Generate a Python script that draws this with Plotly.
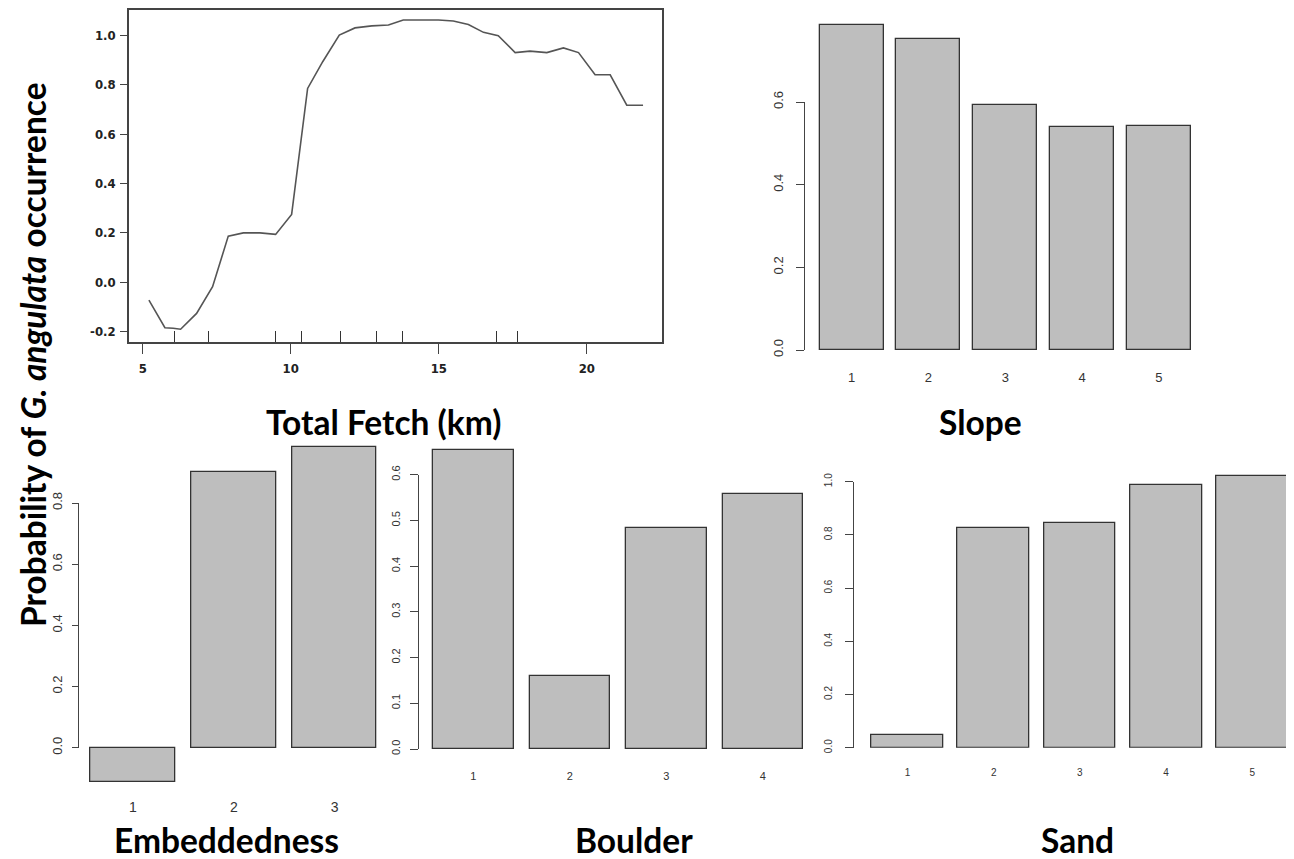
import plotly.graph_objects as go

# ---------------- data ----------------
fetch_km = [5.21, 5.75, 6.03, 6.28, 6.82, 7.36, 7.89, 8.40, 8.96, 9.49, 10.03, 10.57, 11.08,
            11.64, 12.17, 12.74, 13.30, 13.80, 14.37, 14.99, 15.49, 16.00, 16.51, 17.01,
            17.58, 18.08, 18.65, 19.21, 19.72, 20.28, 20.79, 21.35, 21.90]
fetch_prob = [-0.072, -0.184, -0.186, -0.190, -0.126, -0.018, 0.187, 0.200, 0.200, 0.194,
              0.275, 0.785, 0.893, 1.001, 1.030, 1.038, 1.042, 1.062, 1.062, 1.062, 1.058,
              1.044, 1.012, 0.998, 0.930, 0.936, 0.930, 0.949, 0.930, 0.840, 0.840, 0.717, 0.717]
fetch_rug = [6.06, 7.21, 9.50, 10.37, 11.67, 12.88, 13.76, 16.94, 17.66]
fetch_ticks = [5, 10, 15, 20]
fetch_yticks = [-0.2, 0.0, 0.2, 0.4, 0.6, 0.8, 1.0]

slope_cat = [1, 2, 3, 4, 5]
slope_val = [0.786, 0.753, 0.594, 0.540, 0.543]
slope_yticks = [0.0, 0.2, 0.4, 0.6]

emb_cat = [1, 2, 3]
emb_val = [-0.111, 0.902, 0.984]
emb_yticks = [0.0, 0.2, 0.4, 0.6, 0.8]

boulder_cat = [1, 2, 3, 4]
boulder_val = [0.654, 0.160, 0.484, 0.558]
boulder_yticks = [0.0, 0.1, 0.2, 0.3, 0.4, 0.5, 0.6]

sand_cat = [1, 2, 3, 4, 5]
sand_val = [0.047, 0.826, 0.843, 0.988, 1.021]
sand_yticks = [0.0, 0.2, 0.4, 0.6, 0.8, 1.0]

# ---------------- layout helpers ----------------
# the page body has an 8 px margin, so the figure is drawn 8 px in from the window edge
OFF = 8
W, H = 1294 - OFF, 859 - OFF
def fx(p):
    return min(max((p - OFF) / W, 0.0), 1.0)
def fy(p):
    return min(max(1 - (p - OFF) / H, 0.0), 1.0)

BAR_FILL = "#bebebe"
BAR_EDGE = "#333333"
AX = "#444444"
TITLE_FONT = dict(family="Lato, Open Sans, sans-serif", size=33.5, color="#000000", weight="bold")
NARROW_BOLD = dict(family="Liberation Sans Narrow, Arial Narrow, DejaVu Sans Condensed, sans-serif",
                   size=13, color="#222222", weight="bold")
SANS = "Liberation Sans, Arial, sans-serif"

fig = go.Figure()

# ---- Total Fetch line ----
fig.add_trace(go.Scatter(x=fetch_km, y=fetch_prob, mode="lines",
                         line=dict(color="#555555", width=1.6),
                         xaxis="x", yaxis="y", showlegend=False, hoverinfo="skip"))

layout = dict(width=W, height=H, margin=dict(l=0, r=0, t=0, b=0, pad=0),
              plot_bgcolor="rgba(0,0,0,0)", paper_bgcolor="white", bargap=0,
              showlegend=False)

# box top is at y=7 in the reference; draw it at y=10 (inside the page) with the same scale
y_scale = (342 - 7) / (1.1146 + 0.2417)
layout["xaxis"] = dict(domain=[fx(129), fx(662)], range=[4.537, 22.54], anchor="y",
                       automargin=False,
                       showline=True, mirror=True, linecolor=AX, linewidth=1.5,
                       showgrid=False, zeroline=False,
                       tickmode="array", tickvals=fetch_ticks, ticks="outside",
                       ticklen=10, tickcolor=AX, tickwidth=1.3,
                       tickfont=NARROW_BOLD, ticklabelstandoff=4,
                       minor=dict(tickmode="array", tickvals=fetch_rug, ticks="inside",
                                  ticklen=11, tickcolor="#333333", tickwidth=1.3))
layout["yaxis"] = dict(domain=[fy(342), fy(10)], range=[-0.2417, 1.1146 - 3 / y_scale],
                       anchor="x", automargin=False,
                       showline=True, mirror=True, linecolor=AX, linewidth=1.5,
                       showgrid=False, zeroline=False,
                       tickmode="array", tickvals=fetch_yticks,
                       ticktext=["%.1f" % v for v in fetch_yticks],
                       ticks="outside", ticklen=7, tickcolor=AX, tickwidth=1.3,
                       tickfont=NARROW_BOLD, ticklabelstandoff=2)


def bar_panel(n, cats, vals, yticks, xdom_px, xrange, zero_px, top_tick_px, bar_dom_px,
              px_per_unit, label_gap, xfont, yfont, ytlen, ystand):
    """n: x axis / spine y axis index; bar y axis index is n+4."""
    xa, ys, yb = "xaxis%d" % n, "yaxis%d" % n, "yaxis%d" % (n + 4)
    fig.add_trace(go.Bar(x=cats, y=vals, width=[0.8333] * len(cats),
                         marker=dict(color=BAR_FILL, line=dict(color=BAR_EDGE, width=1.3)),
                         xaxis="x%d" % n, yaxis="y%d" % (n + 4), showlegend=False,
                         hoverinfo="skip"))
    fig.add_trace(go.Scatter(x=[None], y=[None], xaxis="x%d" % n, yaxis="y%d" % n,
                             showlegend=False, hoverinfo="skip"))
    layout[xa] = dict(domain=[fx(xdom_px[0]), fx(xdom_px[1])], range=xrange,
                      anchor="y%d" % n, automargin=False,
                      showline=False, showgrid=False, zeroline=False,
                      tickmode="array", tickvals=cats, ticks="",
                      tickfont=xfont, ticklabelstandoff=label_gap)
    bot_px, top_px = bar_dom_px
    layout[yb] = dict(domain=[fy(bot_px), fy(top_px)],
                      range=[(zero_px - bot_px) / px_per_unit, (zero_px - top_px) / px_per_unit],
                      anchor="x%d" % n, visible=False, automargin=False,
                      showgrid=False, zeroline=False)
    layout[ys] = dict(domain=[fy(zero_px), fy(top_tick_px)], range=[0, yticks[-1]],
                      anchor="x%d" % n, automargin=False,
                      showline=True, linecolor=AX, linewidth=1.3,
                      showgrid=False, zeroline=False,
                      tickmode="array", tickvals=yticks,
                      ticktext=["%.1f" % v for v in yticks], tickangle=-90,
                      ticks="outside", ticklen=ytlen, tickcolor=AX, tickwidth=1.3,
                      tickfont=yfont, ticklabelstandoff=ystand)


f13 = dict(family=SANS, size=13, color="#333333")
f11 = dict(family=SANS, size=11, color="#333333")
f10 = dict(family=SANS, size=10, color="#333333")
fn13 = dict(family="Liberation Sans Narrow, Arial Narrow, sans-serif", size=13, color="#333333")
fn14 = dict(family="Liberation Sans Narrow, Arial Narrow, sans-serif", size=14, color="#333333")

# Slope
bar_panel(2, slope_cat, slope_val, slope_yticks, (805, 1200), [0.392, 5.536],
          350, 102, (350, 12), 413.3, 18, f13, f13, 8, 8)
# Embeddedness
bar_panel(3, emb_cat, emb_val, emb_yticks, (79.3, 385), [0.47, 3.498],
          747.7, 503, (795, 430), 306.0, 49, fn14, fn13, 6, 5)
# Boulder
bar_panel(4, boulder_cat, boulder_val, boulder_yticks, (419, 810), [0.437, 4.489],
          749, 474.7, (749, 440), 457.0, 19, f11, f11, 8, 5)
# Sand
bar_panel(5, sand_cat, sand_val, sand_yticks, (854.3, 1294), [0.383, 5.485],
          747.7, 481.7, (747.7, 465), 266.0, 17, f10, f10, 8, 9)


def title(text, xc, yc, angle=0):
    return dict(text=text, x=fx(xc), y=fy(yc), xref="paper", yref="paper",
                xanchor="center", yanchor="middle", showarrow=False,
                font=TITLE_FONT, textangle=angle)

layout["annotations"] = [
    title("Total Fetch (km)", 383, 422),
    title("Slope", 981, 422),
    title("Embeddedness", 226, 840),
    title("Boulder", 634, 840),
    title("Sand", 1077, 840),
    title("Probability of <i>G. angulata</i> occurrence", 33, 355, -90),
]

fig.update_layout(**layout)
fig.write_html("out.html")
